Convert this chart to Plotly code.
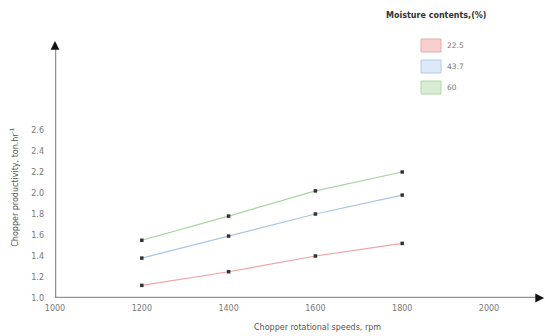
import plotly.graph_objects as go

speeds = [1200, 1400, 1600, 1800]
series_names = ["22.5", "43.7", "60"]
prod_22_5 = [1.12, 1.25, 1.40, 1.52]
prod_43_7 = [1.38, 1.59, 1.80, 1.98]
prod_60 = [1.55, 1.78, 2.02, 2.20]
x_ticks = [1000, 1200, 1400, 1600, 1800, 2000]
y_ticks = [1.0, 1.2, 1.4, 1.6, 1.8, 2.0, 2.2, 2.4, 2.6]
legend_title = "Moisture contents,(%)"
x_title = "Chopper rotational speeds, rpm"
y_title = "Chopper productivity, ton.hr<sup>-1</sup>"

line_colors = ["#f3a3a3", "#a9c3e9", "#a9d3a2"]
fill_colors = ["#f7cfcf", "#dde9f9", "#d9edd5"]
border_colors = ["#eaa9a9", "#b5cbea", "#b3d6ac"]

FONT = "DejaVu Sans, sans-serif"
XMIN, XMAX = 1000, 2129
YMIN, YMAX = 1.0, 3.457

fig = go.Figure()
for name, vals, col in zip(series_names, [prod_22_5, prod_43_7, prod_60], line_colors):
    fig.add_trace(go.Scatter(
        x=speeds, y=vals, name=name, mode="lines+markers",
        line=dict(color=col, width=1.2),
        marker=dict(symbol="square", size=3.5, color="#333333"),
        showlegend=False,
    ))

W, H = 545, 336
L, R, T, B = 55, 0, 40, 38
pw, ph = W - L - R, H - T - B
def dom_x(p):
    return (p - L) / pw
def dom_y(p):
    return (H - B - p) / ph

shapes = []
annotations = []
for i, name in enumerate(series_names):
    y0 = 39 + i * 21
    shapes.append(dict(type="rect", xref="paper", yref="paper",
                       x0=dom_x(421), x1=dom_x(441), y0=dom_y(y0 + 13), y1=dom_y(y0),
                       fillcolor=fill_colors[i], line=dict(color=border_colors[i], width=1)))
    annotations.append(dict(xref="paper", yref="paper", x=dom_x(445), y=dom_y(y0 + 6.5),
                            text=name, showarrow=False, xanchor="left", yanchor="middle",
                            font=dict(family=FONT, size=7.5, color="#777777")))
annotations.append(dict(xref="paper", yref="paper", x=dom_x(436), y=dom_y(15),
                        text="<b>" + legend_title + "</b>", showarrow=False,
                        xanchor="center", yanchor="middle",
                        font=dict(family=FONT, size=8, color="#333333")))

# axis lines (grey)
shapes.append(dict(type="line", xref="x", yref="y", x0=XMIN, x1=XMIN, y0=YMIN, y1=YMAX - 0.05,
                   line=dict(color="#929292", width=2.5)))
shapes.append(dict(type="line", xref="x", yref="y", x0=XMIN, x1=XMAX - 8, y0=YMIN, y1=YMIN,
                   line=dict(color="#929292", width=2.5)))
# black arrowheads
annotations.append(dict(xref="x", yref="y", x=XMIN, y=YMAX - 0.01, ax=0, ay=8, text="",
                        showarrow=True, arrowhead=2, arrowsize=0.8, arrowwidth=2.2,
                        arrowcolor="#111111"))
annotations.append(dict(xref="x", yref="y", x=XMAX - 2, y=YMIN, ax=-8, ay=0, text="",
                        showarrow=True, arrowhead=2, arrowsize=0.8, arrowwidth=2.2,
                        arrowcolor="#111111"))
# axis titles
annotations.append(dict(xref="paper", yref="y", x=dom_x(14), y=2.05, text=y_title,
                        textangle=-90, showarrow=False, xanchor="center", yanchor="middle",
                        font=dict(family=FONT, size=8, color="#555555")))
annotations.append(dict(xref="x", yref="paper", x=1605, y=dom_y(327), text=x_title,
                        showarrow=False, xanchor="center", yanchor="middle",
                        font=dict(family=FONT, size=8, color="#555555")))

fig.update_layout(
    template="none",
    width=W, height=H,
    margin=dict(l=L, r=R, t=T, b=B, pad=0),
    paper_bgcolor="white", plot_bgcolor="white",
    shapes=shapes, annotations=annotations,
    font=dict(family=FONT, size=8, color="#777777"),
    xaxis=dict(range=[XMIN, XMAX], tickvals=x_ticks, ticktext=[str(v) for v in x_ticks],
               showgrid=False, zeroline=False, showline=False, ticks="",
               ticklabelstandoff=4, tickfont=dict(family=FONT, size=8, color="#777777")),
    yaxis=dict(range=[YMIN, YMAX], tickvals=y_ticks, ticktext=[f"{v:.1f}" for v in y_ticks],
               showgrid=False, zeroline=False, showline=False, ticks="",
               ticklabelstandoff=10, tickfont=dict(family=FONT, size=8, color="#777777")),
)

fig.write_html("out.html")
